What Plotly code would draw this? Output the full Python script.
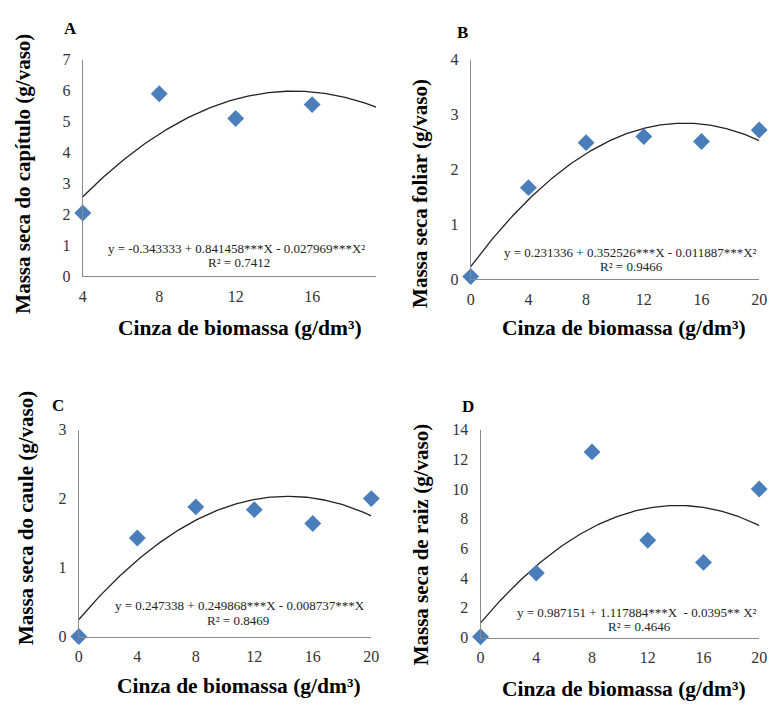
import numpy as np
import plotly.graph_objects as go

W, H = 780, 709

# ---------------- data ----------------
x_A = [4, 8, 12, 16]
y_A = [2.05, 5.9, 5.1, 5.55]
coef_A = [-0.343333, 0.841458, -0.027969]

x_B = [0, 4, 8, 12, 16, 20]
y_B = [0.05, 1.67, 2.49, 2.6, 2.51, 2.72]
coef_B = [0.231336, 0.352526, -0.011887]

x_C = [0, 4, 8, 12, 16, 20]
y_C = [0.0, 1.43, 1.88, 1.84, 1.64, 2.0]
coef_C = [0.247338, 0.249868, -0.008737]

x_D = [0, 4, 8, 12, 16, 20]
y_D = [0.05, 4.34, 12.5, 6.55, 5.06, 10.0]
coef_D = [0.987151, 1.117884, -0.0395]

eq_A = "y = -0.343333 + 0.841458***X - 0.027969***X²"
eq_B = "y = 0.231336 + 0.352526***X - 0.011887***X²"
eq_C = "y = 0.247338 + 0.249868***X - 0.008737***X"
eq_D = "y = 0.987151 + 1.117884***X  - 0.0395** X²"
r2_A = "R² = 0.7412"
r2_B = "R² = 0.9466"
r2_C = "R² = 0.8469"
r2_D = "R² = 0.4646"

ytitle_A = "Massa seca do capítulo (g/vaso)"
ytitle_B = "Massa seca foliar (g/vaso)"
ytitle_C = "Massa seca do caule (g/vaso)"
ytitle_D = "Massa seca de raiz (g/vaso)"
xtitle = "Cinza de biomassa (g/dm³)"
letters = ["A", "B", "C", "D"]

xticks_A = [4, 8, 12, 16]
xticks_other = [0, 4, 8, 12, 16, 20]

# ---------------- layout helpers ----------------
def px_x(p):
    return p / W

def px_y(p):
    return 1 - p / H

panels = [
    dict(x=x_A, y=y_A, c=coef_A, xd=(80, 378), yd=(53, 275), xr=[4, 19.35], yr=[0, 7], dt=1, xt=xticks_A,
         eq=eq_A, r2=r2_A, eqpos=(236, 246), r2pos=(239, 261), yt=ytitle_A, ytpos=(19, 170), xtpos=(240, 328), let=(68, 21)),
    dict(x=x_B, y=y_B, c=coef_B, xd=(474, 767), yd=(53, 278), xr=[0, 20], yr=[0, 4], dt=1, xt=xticks_other,
         eq=eq_B, r2=r2_B, eqpos=(636, 250), r2pos=(637, 265), yt=ytitle_B, ytpos=(423, 190), xtpos=(630, 328), let=(466, 25)),
    dict(x=x_C, y=y_C, c=coef_C, xd=(76, 373), yd=(432, 644), xr=[0, 20], yr=[0, 3], dt=1, xt=xticks_other,
         eq=eq_C, r2=r2_C, eqpos=(240, 612), r2pos=(238, 628), yt=ytitle_C, ytpos=(23, 523), xtpos=(239, 695), let=(55, 407)),
    dict(x=x_D, y=y_D, c=coef_D, xd=(484, 767), yd=(432, 645), xr=[0, 20], yr=[0, 14], dt=2, xt=xticks_other,
         eq=eq_D, r2=r2_D, eqpos=(643, 619), r2pos=(645, 634), yt=ytitle_D, ytpos=(423, 550), xtpos=(630, 698), let=(471, 408)),
]

fig = go.Figure()
SERIF = "Liberation Serif"
annotations = []
layout_axes = {}

for i, p in enumerate(panels):
    n = i + 1
    xa = "x" if n == 1 else f"x{n}"
    ya = "y" if n == 1 else f"y{n}"
    # trend line drawn from the printed regression equation
    xs = np.linspace(p["xr"][0], p["xr"][1], 200)
    c0, c1, c2 = p["c"]
    ys = c0 + c1 * xs + c2 * xs ** 2
    fig.add_trace(go.Scatter(x=xs, y=ys, mode="lines", line=dict(color="#222222", width=1.3),
                             xaxis=xa, yaxis=ya, showlegend=False, hoverinfo="skip", cliponaxis=False))
    fig.add_trace(go.Scatter(x=p["x"], y=p["y"], mode="markers",
                             marker=dict(symbol="diamond", size=13, color="#4a7ebb"),
                             xaxis=xa, yaxis=ya, showlegend=False, cliponaxis=False))
    xkey = "xaxis" if n == 1 else f"xaxis{n}"
    ykey = "yaxis" if n == 1 else f"yaxis{n}"
    layout_axes[xkey] = dict(
        domain=[px_x(p["xd"][0]), px_x(p["xd"][1])], range=p["xr"], anchor=ya,
        tickmode="array", tickvals=p["xt"], showgrid=False, zeroline=False,
        showline=True, linecolor="#8a8a8a", linewidth=1.2,
        ticks="outside", ticklen=5, tickcolor="rgba(0,0,0,0)",
        tickfont=dict(family=SERIF, size=16, color="#333333"),
    )
    layout_axes[ykey] = dict(
        domain=[px_y(p["yd"][1]), px_y(p["yd"][0])], range=p["yr"], anchor=xa,
        dtick=p["dt"], tick0=0, showgrid=False, zeroline=False,
        showline=True, linecolor="#8a8a8a", linewidth=1.2,
        ticks="outside", ticklen=8, tickcolor="rgba(0,0,0,0)",
        tickfont=dict(family=SERIF, size=16, color="#333333"),
    )
    annotations += [
        dict(text=p["eq"], x=px_x(p["eqpos"][0]), y=px_y(p["eqpos"][1]), xref="paper", yref="paper",
             showarrow=False, xanchor="center", yanchor="middle",
             font=dict(family=SERIF, size=13, color="#222222")),
        dict(text=p["r2"], x=px_x(p["r2pos"][0]), y=px_y(p["r2pos"][1]), xref="paper", yref="paper",
             showarrow=False, xanchor="center", yanchor="middle",
             font=dict(family=SERIF, size=13, color="#222222")),
        dict(text="<b>" + p["yt"] + "</b>", x=px_x(p["ytpos"][0]), y=px_y(p["ytpos"][1]), xref="paper", yref="paper",
             showarrow=False, xanchor="center", yanchor="middle", textangle=-90,
             font=dict(family=SERIF, size=21, color="#000000")),
        dict(text="<b>" + xtitle + "</b>", x=px_x(p["xtpos"][0]), y=px_y(p["xtpos"][1]), xref="paper", yref="paper",
             showarrow=False, xanchor="center", yanchor="middle",
             font=dict(family=SERIF, size=21.5, color="#000000")),
        dict(text="<b>" + letters[i] + "</b>", x=px_x(p["let"][0]), y=px_y(p["let"][1]), xref="paper", yref="paper",
             showarrow=False, xanchor="center", yanchor="middle",
             font=dict(family=SERIF, size=17, color="#000000")),
    ]

fig.update_layout(
    width=W, height=H, margin=dict(l=0, r=0, t=0, b=0),
    paper_bgcolor="white", plot_bgcolor="white",
    annotations=annotations, **layout_axes,
)

fig.write_html("out.html", config={"displayModeBar": False},
               post_script="document.body.style.margin='0';document.body.style.overflow='hidden';")
